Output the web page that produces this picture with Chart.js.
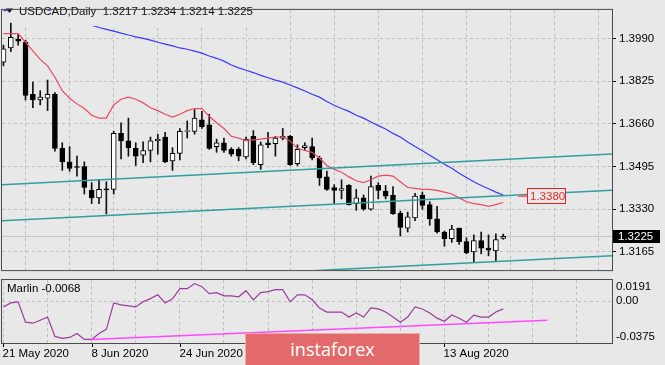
<!DOCTYPE html>
<html>
<head>
<meta charset="utf-8">
<title>USDCAD Daily</title>
<script src="https://cdn.jsdelivr.net/npm/chart.js@4.4.1/dist/chart.umd.min.js"></script>
<style>
  html, body { margin: 0; padding: 0; }
  body { width: 665px; height: 365px; background: #e8e8e8; position: relative; overflow: hidden; }
  canvas { position: absolute; left: 0; }
  #main { top: 0; }
  #sub { top: 278px; }
  #logo { position: absolute; left: 245px; top: 333px; width: 175px; height: 34px; box-sizing: border-box;
          background: #e26a6a; border: 1px solid #f0a8a8; color: #fff; font: 18px "Open Sans", sans-serif;
          line-height: 31px; text-align: center; }
</style>
</head>
<body>
<canvas id="main" width="665" height="280"></canvas>
<canvas id="sub" width="665" height="87"></canvas>
<div id="logo">instaforex</div>
<script>
// ---- data ----
var symbol = 'USDCAD,Daily';
var dates = ['21 May 2020', '8 Jun 2020', '24 Jun 2020', '10 Jul 2020', '28 Jul 2020', '13 Aug 2020'];
var dateIdx = [0, 12, 24, 36, 48, 60];
var priceTicks = [1.3165, 1.3330, 1.3495, 1.3660, 1.3825, 1.3990];
var subTicks = [0.0191, 0, -0.0375];
var subTickLabels = ['0.0191', '0.00', '-0.0375'];

var opens = [1.3898, 1.3953, 1.3986, 1.3975, 1.3774, 1.3752, 1.3759, 1.3774, 1.3565, 1.3513,
             1.3495, 1.3495, 1.3403, 1.3374, 1.3409, 1.3407, 1.3623, 1.3594, 1.3565, 1.3539,
             1.3557, 1.3594, 1.3609, 1.3517, 1.3546, 1.3631, 1.3631, 1.3675, 1.3656, 1.3572,
             1.3587, 1.3561, 1.3561, 1.3532, 1.3612, 1.3502, 1.3587, 1.3583, 1.3605, 1.3612,
             1.3506, 1.3568, 1.3572, 1.3528, 1.3455, 1.3414, 1.3403, 1.3422, 1.3352, 1.3374,
             1.3330, 1.3422, 1.3400, 1.3385, 1.3315, 1.3257, 1.3297, 1.3385, 1.3348, 1.3293,
             1.3242, 1.3216, 1.3257, 1.3205, 1.3165, 1.3209, 1.3180, 1.3169, 1.3217];
var highs = [1.3964, 1.4049, 1.4005, 1.3983, 1.3821, 1.3788, 1.3829, 1.3781, 1.3587, 1.3572,
             1.3535, 1.3513, 1.3433, 1.3444, 1.3436, 1.3631, 1.3664, 1.3682, 1.3587, 1.3590,
             1.3609, 1.3620, 1.3627, 1.3568, 1.3642, 1.3671, 1.3715, 1.3708, 1.3697, 1.3601,
             1.3605, 1.3568, 1.3568, 1.3609, 1.3634, 1.3590, 1.3627, 1.3612, 1.3642, 1.3616,
             1.3579, 1.3587, 1.3605, 1.3535, 1.3477, 1.3425, 1.3444, 1.3425, 1.3407, 1.3385,
             1.3458, 1.3433, 1.3422, 1.3418, 1.3323, 1.3319, 1.3392, 1.3396, 1.3359, 1.3341,
             1.3246, 1.3268, 1.3257, 1.3220, 1.3231, 1.3242, 1.3231, 1.3235, 1.3234];
var lows = [1.3884, 1.3939, 1.3964, 1.3752, 1.3722, 1.3733, 1.3711, 1.3554, 1.3480, 1.3477,
            1.3458, 1.3389, 1.3352, 1.3352, 1.3312, 1.3389, 1.3524, 1.3535, 1.3499, 1.3510,
            1.3513, 1.3543, 1.3510, 1.3480, 1.3521, 1.3605, 1.3620, 1.3642, 1.3561, 1.3550,
            1.3550, 1.3535, 1.3517, 1.3524, 1.3502, 1.3484, 1.3568, 1.3535, 1.3598, 1.3499,
            1.3499, 1.3557, 1.3521, 1.3422, 1.3403, 1.3352, 1.3370, 1.3346, 1.3326, 1.3326,
            1.3326, 1.3370, 1.3370, 1.3310, 1.3227, 1.3242, 1.3286, 1.3330, 1.3268, 1.3238,
            1.3187, 1.3202, 1.3194, 1.3158, 1.3128, 1.3158, 1.3150, 1.3128, 1.3214];
var closes = [1.3950, 1.3994, 1.3979, 1.3770, 1.3752, 1.3763, 1.3774, 1.3565, 1.3513, 1.3488,
              1.3492, 1.3414, 1.3374, 1.3407, 1.3405, 1.3623, 1.3594, 1.3568, 1.3535, 1.3557,
              1.3594, 1.3601, 1.3513, 1.3546, 1.3631, 1.3634, 1.3682, 1.3649, 1.3565, 1.3587,
              1.3557, 1.3543, 1.3535, 1.3601, 1.3510, 1.3579, 1.3579, 1.3605, 1.3612, 1.3502,
              1.3561, 1.3576, 1.3528, 1.3451, 1.3407, 1.3403, 1.3410, 1.3348, 1.3374, 1.3330,
              1.3418, 1.3403, 1.3381, 1.3312, 1.3260, 1.3301, 1.3381, 1.3345, 1.3293, 1.3242,
              1.3216, 1.3253, 1.3205, 1.3161, 1.3209, 1.3180, 1.3172, 1.3213, 1.3225];

var maFast = [1.4008, 1.4008, 1.4008, 1.3975, 1.3942, 1.3909, 1.3884, 1.3840, 1.3788, 1.3759,
              1.3737, 1.3719, 1.3693, 1.3682, 1.3682, 1.3733, 1.3755, 1.3763, 1.3755, 1.3741,
              1.3722, 1.3711, 1.3697, 1.3686, 1.3697, 1.3711, 1.3719, 1.3719, 1.3689, 1.3664,
              1.3642, 1.3612, 1.3605, 1.3594, 1.3598, 1.3601, 1.3605, 1.3609, 1.3609, 1.3594,
              1.3565, 1.3557, 1.3550, 1.3528, 1.3499, 1.3484, 1.3473, 1.3455, 1.3440, 1.3433,
              1.3444, 1.3458, 1.3462, 1.3458, 1.3436, 1.3414, 1.3411, 1.3407, 1.3407, 1.3403,
              1.3396, 1.3389, 1.3374, 1.3359, 1.3352, 1.3348, 1.3341, 1.3348, 1.3356];
var maSlow = [1.4096, 1.4102, 1.4107, 1.4111, 1.4111, 1.4107, 1.4100, 1.4089, 1.4078, 1.4069,
              1.4060, 1.4051, 1.4041, 1.4032, 1.4025, 1.4018, 1.4010, 1.4003, 1.3996, 1.3990,
              1.3983, 1.3975, 1.3968, 1.3961, 1.3953, 1.3948, 1.3941, 1.3933, 1.3922, 1.3913,
              1.3902, 1.3887, 1.3876, 1.3867, 1.3858, 1.3847, 1.3838, 1.3829, 1.3821, 1.3810,
              1.3799, 1.3787, 1.3774, 1.3763, 1.3746, 1.3732, 1.3719, 1.3708, 1.3693, 1.3682,
              1.3667, 1.3653, 1.3640, 1.3623, 1.3609, 1.3590, 1.3572, 1.3556, 1.3539, 1.3521,
              1.3504, 1.3488, 1.3469, 1.3453, 1.3436, 1.3422, 1.3409, 1.3396, 1.3385];
var marlin = [-0.0051, -0.0015, -0.0005, -0.0188, -0.0197, -0.0170, -0.0142, -0.0316, -0.0334, -0.0325,
              -0.0289, -0.0343, -0.0343, -0.0289, -0.0252, -0.0015, -0.0033, -0.0042, -0.0051, -0.0005,
              0.0024, 0.0058, -0.0015, 0.0022, 0.0113, 0.0113, 0.0159, 0.0131, 0.0068, 0.0077,
              0.0049, 0.0049, 0.0040, 0.0095, 0.0013, 0.0077, 0.0086, 0.0104, 0.0104, -0.0005,
              0.0058, 0.0058, 0.0013, -0.0060, -0.0097, -0.0097, -0.0097, -0.0142, -0.0106, -0.0142,
              -0.0060, -0.0069, -0.0097, -0.0142, -0.0188, -0.0142, -0.0051, -0.0069, -0.0106, -0.0152,
              -0.0179, -0.0124, -0.0152, -0.0188, -0.0124, -0.0142, -0.0142, -0.0097, -0.0068];

// drawn objects: channel lines, marlin trend line, levels
var chanX = [-0.2, 82.8];
var chanUpper = [1.3425, 1.3543];
var chanMid = [1.3286, 1.3403];
var chanLow = [1.3033, 1.3150];
var trendX = [11.8, 74];
var trendY = [-0.0343, -0.0170];
var bid = 1.3225;
var levelMark = 1.3380;

// ---- setup ----
var FONT = "'Liberation Sans', Arial, sans-serif";
var BG = '#e8e8e8';
var GRID = '#bdbdbd';
var xMin = -0.2, xMax = 82.8;
Chart.defaults.font.family = FONT;
Chart.defaults.font.size = 11.5;
Chart.defaults.color = '#000';

var idx = closes.map(function(c, i) { return i; });
var gridIdx = [];
for (var g = 0; g <= 78; g += 6) gridIdx.push(g);

function pts(xs, ys) { return xs.map(function(v, i) { return {x: v, y: ys[i]}; }); }
function series(vals) { return vals.map(function(v, i) { return {x: i, y: v}; }); }

function xAxis() {
  return {
    type: 'linear', min: xMin, max: xMax, offset: false,
    ticks: {display: false},
    grid: {color: GRID, drawTicks: false},
    border: {display: false, dash: [3, 3]},
    afterBuildTicks: function(s) { s.ticks = gridIdx.map(function(v) { return {value: v}; }); }
  };
}

function frame(chart) {
  var ctx = chart.ctx, a = chart.chartArea;
  ctx.save();
  ctx.strokeStyle = '#4a4a4a';
  ctx.lineWidth = 1;
  ctx.strokeRect(a.left - 0.5, a.top - 0.5, a.right - a.left + 1, a.bottom - a.top + 1);
  ctx.restore();
}

var mainDeco = {
  id: 'mainDeco',
  afterDatasetsDraw: function(chart) {
    var ctx = chart.ctx, a = chart.chartArea, x = chart.scales.x, y = chart.scales.y;
    var n = closes.length - 1;
    ctx.save();
    ctx.font = '11.5px ' + FONT;
    ctx.textBaseline = 'middle';
    var title = symbol + '  ' + [opens[n], highs[n], lows[n], closes[n]].map(function(v) { return v.toFixed(4); }).join(' ');
    var w = ctx.measureText(title).width;
    ctx.fillStyle = BG;
    ctx.fillRect(16, a.top + 1, w + 6, 15);
    ctx.fillStyle = '#111';
    ctx.beginPath(); ctx.moveTo(6, 8.5); ctx.lineTo(13, 8.5); ctx.lineTo(9.5, 13); ctx.closePath(); ctx.fill();
    ctx.fillText(title, 19, 12);

    // red level tag
    var ly = Math.round(y.getPixelForValue(levelMark));
    var bx = Math.round(x.getPixelForValue(71.2));
    ctx.strokeStyle = '#e8707c'; ctx.lineWidth = 2;
    ctx.beginPath(); ctx.moveTo(x.getPixelForValue(70), ly); ctx.lineTo(bx, ly); ctx.stroke();
    ctx.fillStyle = BG; ctx.fillRect(bx, ly - 8, 39, 16);
    ctx.strokeStyle = '#e02424'; ctx.lineWidth = 1;
    ctx.strokeRect(bx + 0.5, ly - 7.5, 38, 15);
    ctx.fillStyle = '#e82626';
    ctx.fillText(levelMark.toFixed(4), bx + 3, ly + 0.5);
    ctx.restore();
  },
  afterDraw: function(chart) {
    frame(chart);
    var ctx = chart.ctx, a = chart.chartArea, y = chart.scales.y;
    var by = Math.round(y.getPixelForValue(bid));
    ctx.save();
    ctx.fillStyle = '#000';
    ctx.fillRect(a.right + 1, by - 6, 47, 13);
    ctx.fillStyle = '#fff';
    ctx.font = '11.5px ' + FONT;
    ctx.textBaseline = 'middle';
    ctx.fillText(bid.toFixed(4), a.right + 6, by + 0.5);
    ctx.restore();
  }
};

var subDeco = {
  id: 'subDeco',
  afterDraw: function(chart) {
    frame(chart);
    var ctx = chart.ctx, a = chart.chartArea, x = chart.scales.x, y = chart.scales.y;
    ctx.save();
    ctx.font = '11.5px ' + FONT;
    ctx.textBaseline = 'middle';
    ctx.fillStyle = '#000';
    ctx.fillText('Marlin ' + marlin[marlin.length - 1].toFixed(4), 7, a.top + 9);
    var ys = [a.top + 7, y.getPixelForValue(subTicks[1]), a.bottom - 6];
    subTickLabels.forEach(function(t, i) { ctx.fillText(t, a.right + 4, ys[i]); });
    ctx.strokeStyle = '#000'; ctx.lineWidth = 1;
    dateIdx.forEach(function(d, i) {
      var px = Math.round(x.getPixelForValue(d)) + 0.5;
      ctx.beginPath(); ctx.moveTo(px, a.bottom + 1); ctx.lineTo(px, a.bottom + 4); ctx.stroke();
      ctx.fillText(dates[i], px - 1, a.bottom + 11);
    });
    ctx.restore();
  }
};

new Chart(document.getElementById('main'), {
  type: 'bar',
  data: {
    datasets: [
      {type: 'line', data: pts(chanX, chanUpper), borderColor: '#2f9f9f', borderWidth: 1.5, pointRadius: 0, order: 0},
      {type: 'line', data: pts(chanX, chanMid), borderColor: '#2f9f9f', borderWidth: 1.5, pointRadius: 0, order: 0},
      {type: 'line', data: pts(chanX, chanLow), borderColor: '#2f9f9f', borderWidth: 1.5, pointRadius: 0, order: 0},
      {type: 'line', data: series(maFast), borderColor: '#e84a64', borderWidth: 1.2, pointRadius: 0, order: 0},
      {type: 'line', data: series(maSlow), borderColor: '#3838ff', borderWidth: 1.2, pointRadius: 0, order: 0},
      {type: 'bar', data: idx.map(function(i) { return {x: i, y: [opens[i], closes[i]]}; }),
        backgroundColor: idx.map(function(i) { return closes[i] >= opens[i] ? '#ffffff' : '#000000'; }),
        borderColor: '#000', borderWidth: 1, borderSkipped: false, barThickness: 5, grouped: false, order: 1},
      {type: 'bar', data: idx.map(function(i) { return {x: i, y: [lows[i], highs[i]]}; }),
        backgroundColor: '#111', barThickness: 1, grouped: false, order: 2},
      {type: 'line', data: pts(chanX, [bid, bid]), borderColor: '#c2c2c2', borderWidth: 1, pointRadius: 0, order: 3}
    ]
  },
  options: {
    responsive: false, animation: false, devicePixelRatio: 1, events: [],
    layout: {padding: {left: 2, top: 3, right: 0, bottom: 3}},
    plugins: {legend: {display: false}, tooltip: {enabled: false}},
    scales: {
      x: xAxis(),
      y: {
        position: 'right', min: 1.3095, max: 1.4100,
        afterFit: function(s) { s.width = 53; },
        afterBuildTicks: function(s) { s.ticks = priceTicks.map(function(v) { return {value: v}; }); },
        ticks: {padding: 3, callback: function(v) { return v.toFixed(4); }},
        grid: {color: GRID, tickLength: 4, tickColor: '#000'},
        border: {display: false, dash: [3, 3]}
      }
    }
  },
  plugins: [mainDeco]
});

new Chart(document.getElementById('sub'), {
  type: 'line',
  data: {
    datasets: [
      {data: pts(trendX, trendY), borderColor: '#ff48ff', borderWidth: 1.5, pointRadius: 0},
      {data: series(marlin), borderColor: '#9c3a9c', borderWidth: 1.2, pointRadius: 0}
    ]
  },
  options: {
    responsive: false, animation: false, devicePixelRatio: 1, events: [],
    layout: {padding: {left: 2, top: 2, right: 0, bottom: 22}},
    plugins: {legend: {display: false}, tooltip: {enabled: false}},
    scales: {
      x: xAxis(),
      y: {
        position: 'right', min: -0.0375, max: 0.0191,
        afterFit: function(s) { s.width = 53; },
        afterBuildTicks: function(s) { s.ticks = [{value: 0}]; },
        ticks: {display: false},
        grid: {color: GRID, drawTicks: false},
        border: {display: false, dash: [3, 3]}
      }
    }
  },
  plugins: [subDeco]
});
</script>
</body>
</html>
